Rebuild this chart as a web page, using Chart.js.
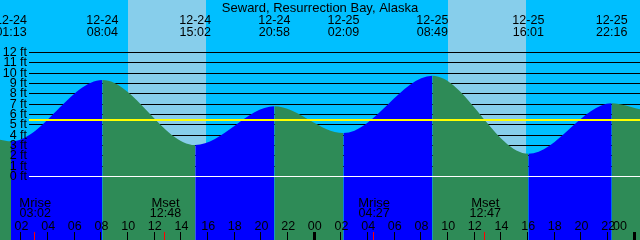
<!DOCTYPE html>
<html>
<head>
<meta charset="utf-8">
<script src="https://cdn.jsdelivr.net/npm/chart.js@4.4.1/dist/chart.umd.min.js"></script>
<style>
  html, body { margin: 0; padding: 0; background: #00bfff; }
  canvas { display: block; }
</style>
</head>
<body>
<canvas id="tide" width="640" height="240"></canvas>
<script>
// Seward, Resurrection Bay — tide window 12-24 00:23 .. 12-26 00:23

const title = 'Seward, Resurrection Bay, Alaska';

// tide extremes
const tideDates   = ['12-24', '12-24', '12-24', '12-24', '12-25', '12-25', '12-25', '12-25'];
const tideClock   = ['01:13', '08:04', '15:02', '20:58', '02:09', '08:49', '16:01', '22:16'];
const tideHeights = [3.4, 9.35, 3.05, 6.8, 4.2, 9.75, 2.2, 7.1];

// water level read at the left and right edges of the window (ft)
const edgeHeights = [3.55, 6.5];

// daylight bands
const dayDates  = ['12-24', '12-25'];
const sunrise   = ['09:58', '09:58'];
const sunset    = ['15:49', '15:49'];

// moon events
const moonDates  = ['12-24', '12-24', '12-25', '12-25'];
const moonNames  = ['Mrise', 'Mset', 'Mrise', 'Mset'];
const moonClock  = ['03:02', '12:48', '04:27', '12:47'];

// axes
const depthTicks  = [0, 1, 2, 3, 4, 5, 6, 7, 8, 9, 10, 11, 12];
const meanLevel   = 5.44;
const hourTicks   = [2, 4, 6, 8, 10, 12, 14, 16, 18, 20, 22, 24, 26, 28, 30, 32, 34, 36, 38, 40, 42, 44, 46, 48];
const hourLabels  = ['02', '04', '06', '08', '10', '12', '14', '16', '18', '20', '22', '00',
                     '02', '04', '06', '08', '10', '12', '14', '16', '18', '20', '22', '00'];

const X_MIN = 0.39, X_MAX = 48.39;
const Y_MIN = -6.145, Y_MAX = 17.08;

const NIGHT = '#00bfff';
const DAY = '#87ceeb';
const RISING = '#0000ff';
const FALLING = '#2e8b57';
// the original bitmap font has narrow digits, so numbers get a slightly smaller size
const FONT_TEXT = '13px "Liberation Sans", Arial, sans-serif';
const FONT_NUM = '12.5px "Liberation Sans", Arial, sans-serif';

// "12-25 02:09" -> hours since 12-24 00:00
function toHours(date, clock) {
  const [h, m] = clock.split(':').map(Number);
  return (date === '12-25' ? 24 : 0) + h + m / 60;
}

const points = [{ x: X_MIN, y: edgeHeights[0] }];
tideClock.forEach((c, i) => points.push({ x: toHours(tideDates[i], c), y: tideHeights[i] }));
points.push({ x: X_MAX, y: edgeHeights[1] });

const backdrop = {
  id: 'backdrop',
  beforeDatasetsDraw(chart) {
    const { ctx, scales: { x, y }, width, height } = chart;
    ctx.save();
    ctx.fillStyle = NIGHT;
    ctx.fillRect(0, 0, width, height);
    ctx.fillStyle = DAY;
    dayDates.forEach((d, i) => {
      const x0 = Math.round(x.getPixelForValue(toHours(d, sunrise[i])));
      const x1 = Math.round(x.getPixelForValue(toHours(d, sunset[i])));
      ctx.fillRect(x0, 0, x1 - x0, height);
    });
    // depth lines sit behind the water
    ctx.fillStyle = '#000';
    depthTicks.forEach(v => {
      if (v === 0) return;
      ctx.fillRect(29, Math.floor(y.getPixelForValue(v)), width - 29, 1);
    });
    ctx.restore();
  }
};

const overlay = {
  id: 'overlay',
  afterDatasetsDraw(chart) {
    const { ctx, scales: { x, y }, width } = chart;
    ctx.save();

    // mean level + datum
    ctx.fillStyle = '#ffff00';
    ctx.fillRect(29, Math.round(y.getPixelForValue(meanLevel)) - 1, width - 29, 2);
    ctx.fillStyle = '#ffffff';
    ctx.fillRect(29, Math.floor(y.getPixelForValue(0)), width - 29, 1);

    ctx.fillStyle = '#000';
    ctx.textBaseline = 'alphabetic';

    // depth labels
    ctx.font = FONT_NUM;
    ctx.textAlign = 'right';
    depthTicks.forEach(v => {
      ctx.fillText(v + ' ft', 27, Math.floor(y.getPixelForValue(v)) + 4);
    });

    // title + tide event labels
    ctx.textAlign = 'center';
    ctx.font = FONT_TEXT;
    ctx.fillText(title, 320, 12);
    ctx.font = FONT_NUM;
    tideClock.forEach((c, i) => {
      const px = x.getPixelForValue(toHours(tideDates[i], c));
      ctx.fillText(tideDates[i], px, 24);
      ctx.fillText(c, px, 36);
    });

    // moon labels
    moonNames.forEach((n, i) => {
      const px = x.getPixelForValue(toHours(moonDates[i], moonClock[i]));
      ctx.font = FONT_TEXT;
      ctx.fillText(n, px, 207);
      ctx.font = FONT_NUM;
      ctx.fillText(moonClock[i], px, 217);
    });

    // hour ticks + labels
    ctx.font = FONT_NUM;
    hourTicks.forEach((h, i) => {
      const px = x.getPixelForValue(h);
      const midnight = h % 24 === 0;
      ctx.fillStyle = '#000';
      ctx.fillRect(Math.round(px) - (midnight ? 2 : 1), 232, midnight ? 3 : 1, 8);
      const w = ctx.measureText(hourLabels[i]).width;
      const cx = Math.min(px, width - 13 - w / 2); // keep last label on the page
      ctx.fillText(hourLabels[i], cx, 230);
    });

    // moon ticks
    ctx.fillStyle = '#ff0000';
    moonClock.forEach((c, i) => {
      const px = x.getPixelForValue(toHours(moonDates[i], c));
      ctx.fillRect(Math.round(px) - 1, 232, 1, 8);
    });

    ctx.restore();
  }
};

new Chart(document.getElementById('tide'), {
  type: 'line',
  data: {
    datasets: [{
      data: points,
      borderWidth: 0,
      borderColor: 'rgba(0,0,0,0)',
      pointRadius: 0,
      fill: 'start',
      backgroundColor: RISING,
      cubicInterpolationMode: 'monotone',
      segment: {
        backgroundColor: c => c.p1.parsed.y > c.p0.parsed.y ? RISING : FALLING
      }
    }]
  },
  options: {
    responsive: false,
    animation: false,
    devicePixelRatio: 1,
    layout: { padding: 0 },
    plugins: { legend: { display: false }, tooltip: { enabled: false } },
    scales: {
      x: { type: 'linear', min: X_MIN, max: X_MAX, display: false },
      y: { min: Y_MIN, max: Y_MAX, display: false }
    }
  },
  plugins: [backdrop, overlay]
});
</script>
</body>
</html>
